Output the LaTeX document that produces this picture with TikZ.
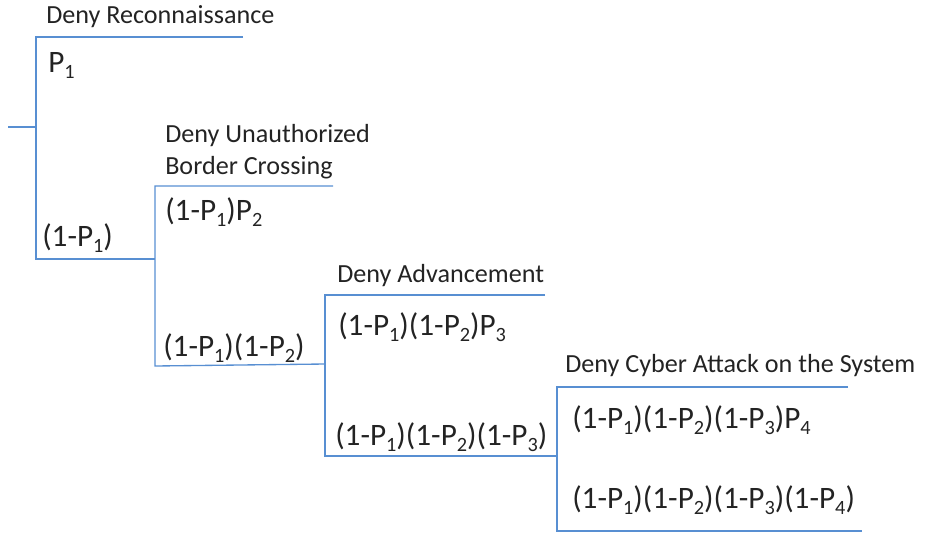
\documentclass[tikz,border=0pt]{standalone}
\usepackage{fontspec}
\setmainfont{Carlito}
\definecolor{branch}{RGB}{88,143,210}
\definecolor{ink}{RGB}{35,35,35}
% subscript digit, lowered and smaller
\newcommand{\lowsub}[1]{\raisebox{-5.2pt}{\fontsize{15.2}{15.2}\selectfont #1}}
\newcommand{\Pn}[1]{P\lowsub{#1}}
\begin{document}
\begin{tikzpicture}[x=0.75pt,y=-0.75pt,
  lbl/.style={anchor=base west,inner sep=0pt,text=ink,font=\fontsize{19.6}{24}\selectfont},
  prob/.style={lbl,font=\fontsize{23.4}{28}\selectfont},
  branchline/.style={draw=branch,line width=1pt}]
\useasboundingbox (0,0) rectangle (925,533);

% stage titles
\node[lbl] (t1)  at (46,23)  {Deny Reconnaissance};
\node[lbl] (t2a) at (165,142) {Deny Unauthorized};
\node[lbl] (t2b) at (165,174) {Border Crossing};
\node[lbl] (t3)  at (337,282) {Deny Advancement};
\node[lbl] (t4)  at (565,372) {Deny Cyber Attack on the System};

% outcome probabilities
\node[prob] (a1) at (48,72)   {\Pn{1}};
\node[prob] (b1) at (42,246)  {(1-\Pn{1})};
\node[prob] (a2) at (165,220) {(1-\Pn{1})\Pn{2}};
\node[prob] (b2) at (163,356) {(1-\Pn{1})(1-\Pn{2})};
\node[prob] (a3) at (338,335) {(1-\Pn{1})(1-\Pn{2})\Pn{3}};
\node[prob] (b3) at (335,445) {(1-\Pn{1})(1-\Pn{2})(1-\Pn{3})};
\node[prob] (a4) at (572,428) {(1-\Pn{1})(1-\Pn{2})(1-\Pn{3})\Pn{4}};
\node[prob] (b4) at (572,508) {(1-\Pn{1})(1-\Pn{2})(1-\Pn{3})(1-\Pn{4})};

% bracket corners
\coordinate (root) at (8,127);
\coordinate (s1) at (36,127);
\coordinate (s1top) at (36,37);   \coordinate (s1topend) at (243,37);
\coordinate (s1bot) at (36,259);  \coordinate (s2join) at (155,259);
\coordinate (s2top) at (155,186); \coordinate (s2topend) at (333,186);
\coordinate (s2bot) at (155,366); \coordinate (s3join) at (325,364);
\coordinate (s3top) at (325,295); \coordinate (s3topend) at (545,295);
\coordinate (s3bot) at (325,456); \coordinate (s4join) at (557,456);
\coordinate (s4top) at (557,387); \coordinate (s4topend) at (848,387);
\coordinate (s4bot) at (557,531); \coordinate (s4botend) at (862,531);

% branches
\draw[branchline] (root) -- (s1);
\draw[branchline] (s1topend) -- (s1top) -- (s1bot) -- (s2join);
\draw[branchline] (s2topend) -- (s2top) -- (s2bot) -- (s3join);
\draw[branchline] (s3topend) -- (s3top) -- (s3bot) -- (s4join);
\draw[branchline] (s4topend) -- (s4top) -- (s4bot) -- (s4botend);
\end{tikzpicture}
\end{document}
